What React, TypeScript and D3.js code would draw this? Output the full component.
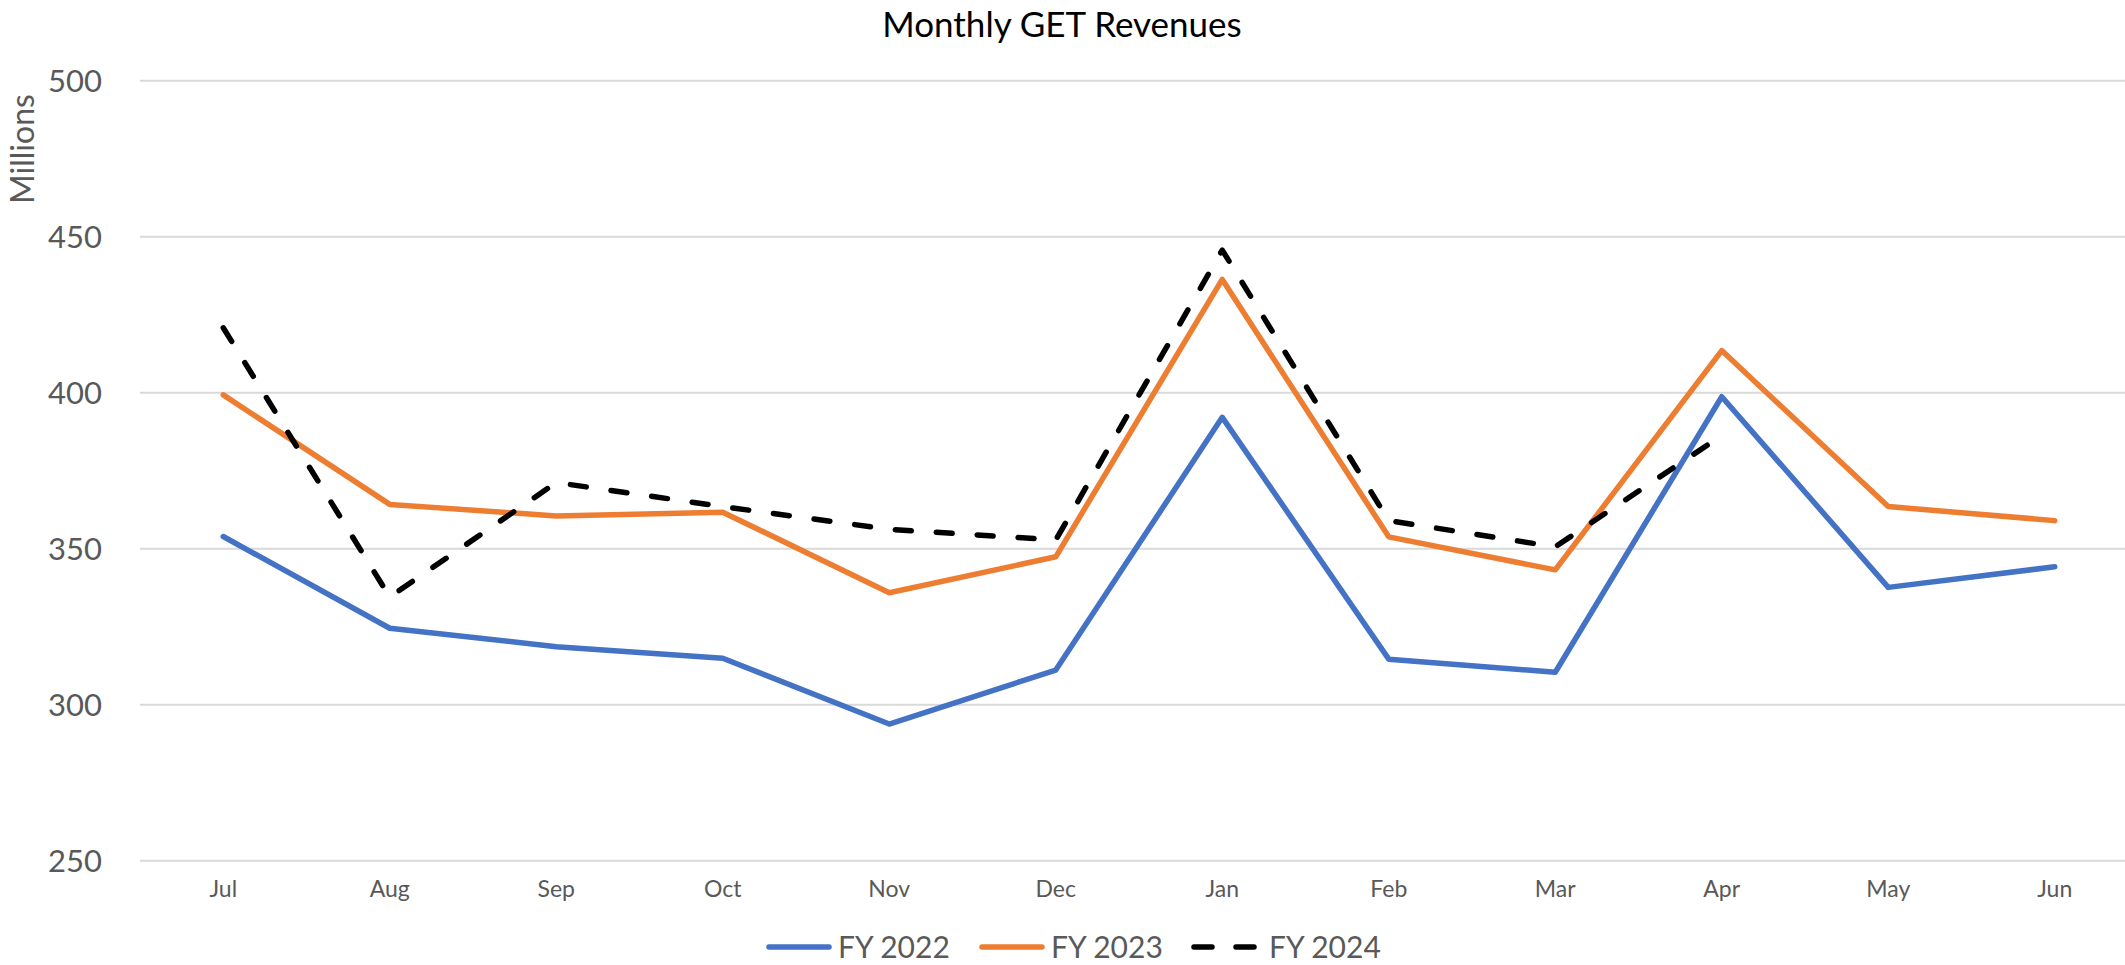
import React, { useEffect, useRef } from 'react';
import * as d3 from 'd3';

const months = ['Jul', 'Aug', 'Sep', 'Oct', 'Nov', 'Dec', 'Jan', 'Feb', 'Mar', 'Apr', 'May', 'Jun'];
const fy2022 = [353.9, 324.5, 318.6, 314.9, 293.8, 311.1, 392.1, 314.6, 310.4, 398.7, 337.6, 344.2];
const fy2023 = [399.3, 364.2, 360.5, 361.7, 335.9, 347.4, 436.3, 353.8, 343.2, 413.5, 363.5, 359.0];
const fy2024: (number | null)[] = [420.8, 334.5, 371.2, 363.5, 356.2, 352.8, 445.7, 359.0, 350.6, 386.3, null, null];
const yTicks = [250, 300, 350, 400, 450, 500];

const seriesList = [
  { name: 'FY 2022', values: fy2022, color: '#4472C4', dash: null },
  { name: 'FY 2023', values: fy2023, color: '#ED7D31', dash: null },
  { name: 'FY 2024', values: fy2024, color: '#000000', dash: '16 25' },
];

const W = 2125;
const H = 965;
const FONT = 'Lato, "Open Sans", sans-serif';

const App = () => {
  const ref = useRef<SVGSVGElement>(null);

  useEffect(() => {
    const svg = d3.select(ref.current);
    svg.selectAll('*').remove();

    const x = d3.scalePoint<string>().domain(months).range([140, 2138]).padding(0.5);
    const y = d3.scaleLinear().domain([250, 500]).range([860.7, 80.7]);

    // gridlines
    svg.append('g')
      .selectAll('line')
      .data(yTicks)
      .enter()
      .append('line')
      .attr('x1', 140)
      .attr('x2', W)
      .attr('y1', d => y(d))
      .attr('y2', d => y(d))
      .attr('stroke', '#d9d9d9')
      .attr('stroke-width', 2);

    // y tick labels
    svg.append('g')
      .selectAll('text')
      .data(yTicks)
      .enter()
      .append('text')
      .attr('x', 102)
      .attr('y', d => y(d))
      .attr('dy', '0.35em')
      .attr('text-anchor', 'end')
      .attr('font-family', FONT)
      .attr('font-size', 31)
      .attr('fill', '#595959')
      .text(d => d);

    // x labels
    svg.append('g')
      .selectAll('text')
      .data(months)
      .enter()
      .append('text')
      .attr('x', d => x(d)!)
      .attr('y', 897)
      .attr('text-anchor', 'middle')
      .attr('font-family', FONT)
      .attr('font-size', 23)
      .attr('fill', '#595959')
      .text(d => d);

    // axis title
    svg.append('text')
      .attr('transform', 'translate(34, 149) rotate(-90)')
      .attr('text-anchor', 'middle')
      .attr('font-family', FONT)
      .attr('font-size', 32)
      .attr('fill', '#595959')
      .text('Millions');

    // chart title
    svg.append('text')
      .attr('x', 1062)
      .attr('y', 37)
      .attr('text-anchor', 'middle')
      .attr('font-family', FONT)
      .attr('font-size', 35)
      .attr('fill', '#000')
      .text('Monthly GET Revenues');

    // lines
    const line = d3.line<number | null>()
      .defined(d => d !== null)
      .x((_, i) => x(months[i])!)
      .y(d => y(d as number));

    seriesList.forEach(s => {
      const p = svg.append('path')
        .datum(s.values)
        .attr('d', line as any)
        .attr('fill', 'none')
        .attr('stroke', s.color)
        .attr('stroke-width', 5.5)
        .attr('stroke-linejoin', 'round')
        .attr('stroke-linecap', 'round');
      if (s.dash) p.attr('stroke-dasharray', s.dash);
    });

    // legend
    const legendX = [766, 979, 1191];
    const ly = 947;
    const lg = svg.append('g');
    seriesList.forEach((s, i) => {
      const l = lg.append('line')
        .attr('x1', legendX[i] + 3)
        .attr('x2', legendX[i] + 63)
        .attr('y1', ly)
        .attr('y2', ly)
        .attr('stroke', s.color)
        .attr('stroke-width', 5.5)
        .attr('stroke-linecap', 'round');
      if (s.dash) l.attr('stroke-dasharray', '18 24');
      lg.append('text')
        .attr('x', legendX[i] + (s.dash ? 78 : 72))
        .attr('y', ly)
        .attr('dy', '0.35em')
        .attr('font-family', FONT)
        .attr('font-size', 30)
        .attr('fill', '#595959')
        .text(s.name);
    });
  }, []);

  return (
    <svg ref={ref} width={W} height={H} style={{ position: 'absolute', left: 0, top: 0, background: '#fff' }} />
  );
};

export default App;
